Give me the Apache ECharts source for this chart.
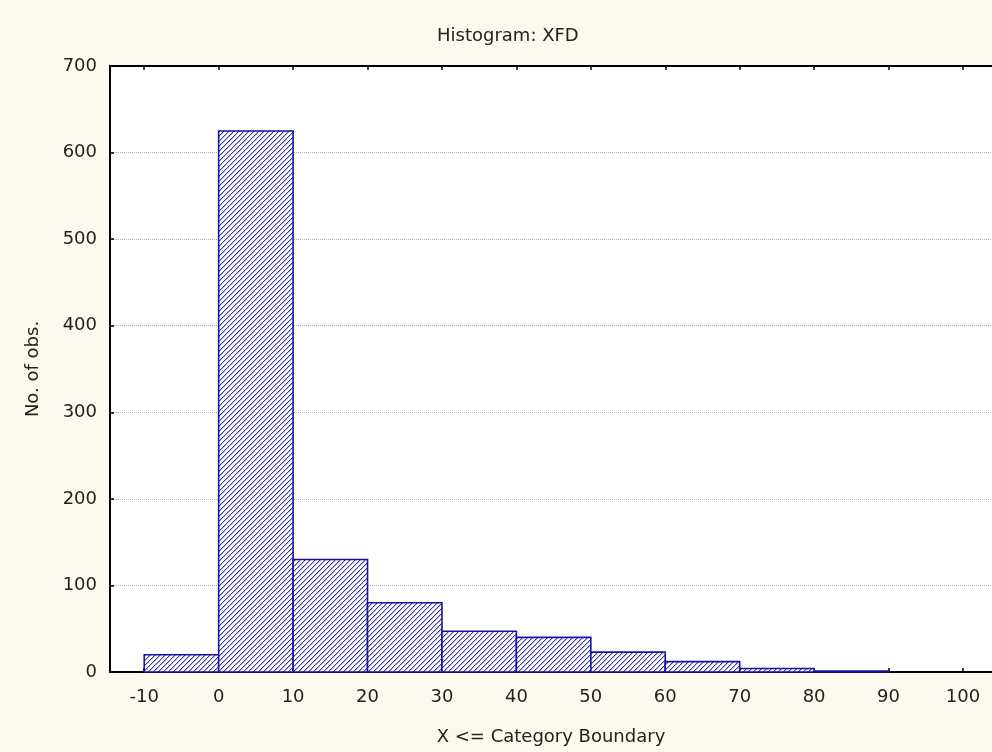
<!DOCTYPE html>
<html>
<head>
<meta charset="utf-8">
<title>Histogram: XFD</title>
<script src="https://cdn.jsdelivr.net/npm/echarts@6/dist/echarts.min.js"></script>
<style>
  html, body { margin: 0; padding: 0; background: #fcf9ee; }
  #chart { width: 992px; height: 752px; }
</style>
</head>
<body>
<div id="chart"></div>
<script>
// Histogram bins: lower and upper category boundaries, and the count in each bin
const binLower = [-10, 0, 10, 20, 30, 40, 50, 60, 70, 80];
const binUpper = [0, 10, 20, 30, 40, 50, 60, 70, 80, 90];
const counts   = [20, 625, 130, 80, 47, 40, 23, 12, 4, 1];

// Axis tick values
const xTicks = [-10, 0, 10, 20, 30, 40, 50, 60, 70, 80, 90, 100];
const yTicks = [0, 100, 200, 300, 400, 500, 600, 700];

const FONT = '"DejaVu Sans", sans-serif';

// Diagonal "/" hatch tile used to fill the bars
function makeHatch() {
  const n = 5;
  const c = document.createElement('canvas');
  c.width = n; c.height = n;
  const g = c.getContext('2d');
  g.fillStyle = '#ffffff';
  g.fillRect(0, 0, n, n);
  for (let y = 0; y < n; y++) {
    const x = n - 1 - y;
    g.fillStyle = '#3838a8';
    g.fillRect(x, y, 1, 1);
    g.fillStyle = '#b4b4e0';
    g.fillRect((x + 1) % n, y, 1, 1);
  }
  return c;
}
const hatch = { image: makeHatch(), repeat: 'repeat' };

const data = binLower.map((lo, i) => [lo, binUpper[i], counts[i]]);

const chart = echarts.init(document.getElementById('chart'), null, { renderer: 'canvas' });

const tickCommon = { show: true, inside: true, length: 4, lineStyle: { color: '#000', width: 1.5 } };

chart.setOption({
  backgroundColor: '#fcf9ee',
  animation: false,
  title: {
    text: 'Histogram: XFD',
    left: 432,
    top: 22,
    textStyle: { fontFamily: FONT, fontSize: 18, fontWeight: 'normal', color: '#222' }
  },
  grid: {
    left: 110, top: 66, right: 0, bottom: 80,
    show: true, backgroundColor: '#ffffff', borderWidth: 0
  },
  xAxis: [{
    type: 'value',
    min: -14.6, max: 103.9,
    position: 'bottom',
    name: 'X <= Category Boundary',
    nameLocation: 'middle',
    nameGap: 56,
    nameTextStyle: { fontFamily: FONT, fontSize: 18, color: '#222' },
    axisLine: { show: true, onZero: false, lineStyle: { color: '#000', width: 2 } },
    axisTick: Object.assign({ customValues: xTicks }, tickCommon),
    axisLabel: { customValues: xTicks, margin: 16, fontFamily: FONT, fontSize: 18, color: '#222' },
    splitLine: { show: false }
  }, {
    type: 'value',
    min: -14.6, max: 103.9,
    position: 'top',
    axisLine: { show: true, onZero: false, lineStyle: { color: '#000', width: 2 } },
    axisTick: Object.assign({ customValues: xTicks }, tickCommon),
    axisLabel: { show: false },
    splitLine: { show: false }
  }],
  yAxis: {
    type: 'value',
    min: 0, max: 700, interval: 100,
    name: 'No. of obs.',
    nameLocation: 'middle',
    nameGap: 68,
    nameTextStyle: { fontFamily: FONT, fontSize: 18, color: '#222' },
    axisLine: { show: true, onZero: false, lineStyle: { color: '#000', width: 2 } },
    axisTick: tickCommon,
    axisLabel: { margin: 13, fontFamily: FONT, fontSize: 18, color: '#222',
      customValues: yTicks },
    splitLine: { show: true, lineStyle: { color: '#b0b0b0', type: 'dotted', width: 1 } }
  },
  series: [{
    type: 'custom',
    xAxisIndex: 0,
    data: data,
    encode: { x: [0, 1], y: 2 },
    z: 3,
    renderItem: function (params, api) {
      const p0 = api.coord([api.value(0), api.value(2)]);
      const p1 = api.coord([api.value(1), 0]);
      return {
        type: 'rect',
        shape: { x: p0[0], y: p0[1], width: p1[0] - p0[0], height: p1[1] - p0[1] },
        style: { fill: hatch, stroke: '#1414a0', lineWidth: 1.6 }
      };
    }
  }]
});
</script>
</body>
</html>
